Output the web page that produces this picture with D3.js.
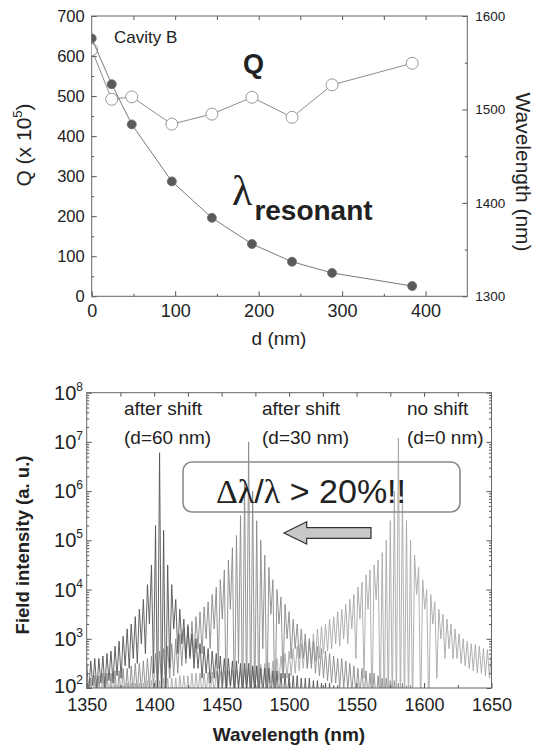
<!DOCTYPE html>
<html>
<head>
<meta charset="utf-8">
<script src="https://cdn.jsdelivr.net/npm/d3@7"></script>
<style>
  body { margin: 0; background: #fff; }
  svg text { font-family: "Liberation Sans", Arial, sans-serif; fill: #222; }
</style>
</head>
<body>
<svg id="chart" width="537" height="747"></svg>
<script>
// ---- top panel data (Cavity B) ----
const dValues = [0, 24, 48, 96, 144, 192, 240, 288, 384];            // nm
const qValues = [616, 492, 498, 430, 455, 497, 447, 528, 582];       // Q x 10^5
const lambdaRes = [1576, 1527, 1484, 1423, 1384, 1356, 1337, 1325, 1311]; // nm

const dTicks = [0, 100, 200, 300, 400];
const qTicks = [0, 100, 200, 300, 400, 500, 600, 700];
const wlTicks = [1300, 1400, 1500, 1600];

// ---- bottom panel data: field spectra, log10 intensity ----
// upper (hi) and lower (lo) fringe values read at 3 nm steps from 1350 nm
const specGrid = d3.range(1350, 1651, 3);
const hiA = [2.5, 2.55, 2.6, 2.6, 2.65, 2.7, 2.75, 2.85, 2.95, 3.05,
  3.2, 3.3, 3.45, 3.6, 3.8, 4.1, 4.5, 5.3, 6.78, 5.2,
  4.5, 4.1, 3.8, 3.6, 3.4, 3.25, 3.1, 3.0, 2.9, 2.85,
  2.8, 2.75, 2.7, 2.65, 2.6, 2.6, 2.55, 2.55, 2.5, 2.5,
  2.5, 2.45, 2.45, 2.4, 2.4, 2.4, 2.35, 2.35, 2.3, 2.3,
  2.3, 2.25, 2.25, 2.2, 2.2, 2.2, 2.15, 2.15, 2.1, 2.1,
  2.1, 2.05, 2.05, 2.0, 2.0, 2.0, 1.95, 1.95, 1.9, 1.9,
  1.9, 1.9, 1.85, 1.85, 1.85, 1.85, 1.8, 1.8, 1.8, 1.8,
  1.8, 1.8, 1.75, 1.75, 1.75, 1.75, 1.75, 1.75, 1.7, 1.7,
  1.7, 1.7, 1.7, 1.7, 1.7, 1.7, 1.7, 1.7, 1.7, 1.7, 1.7];
const loA = [1.9, 2.05, 1.95, 2.1, 2.0, 2.15, 2.1, 2.25, 2.2, 2.45,
  2.4, 2.6, 2.5, 2.9, 2.7, 3.3, 2.3, 1.5, 1.5, 1.5,
  2.4, 3.2, 2.7, 2.9, 2.6, 2.6, 2.4, 2.4, 2.2, 2.3,
  2.1, 2.2, 2.0, 2.1, 1.95, 2.05, 1.9, 2.0, 1.85, 1.95,
  1.8, 1.9, 1.8, 1.85, 1.75, 1.8, 1.7, 1.8, 1.7, 1.7,
  1.65, 1.7, 1.65, 1.6, 1.6, 1.6, 1.6, 1.6, 1.55, 1.55,
  1.5, 1.5, 1.5, 1.5, 1.5, 1.5, 1.5, 1.5, 1.5, 1.5,
  1.5, 1.5, 1.5, 1.5, 1.5, 1.5, 1.5, 1.5, 1.5, 1.5,
  1.5, 1.5, 1.5, 1.5, 1.5, 1.5, 1.5, 1.5, 1.5, 1.5,
  1.5, 1.5, 1.5, 1.5, 1.5, 1.5, 1.5, 1.5, 1.5, 1.5, 1.5];
const hiB = [2.2, 2.2, 2.25, 2.25, 2.3, 2.3, 2.3, 2.35, 2.35, 2.4,
  2.4, 2.45, 2.5, 2.5, 2.55, 2.6, 2.65, 2.7, 2.75, 2.8,
  2.85, 2.9, 3.0, 3.1, 3.2, 3.3, 3.35, 3.45, 3.55, 3.65,
  3.75, 3.9, 4.05, 4.2, 4.4, 4.6, 4.85, 5.1, 5.5, 6.2,
  7.0, 6.0, 5.4, 5.0, 4.7, 4.45, 4.2, 4.0, 3.85, 3.7,
  3.55, 3.4, 3.3, 3.2, 3.1, 3.0, 2.95, 2.85, 2.8, 2.75,
  2.7, 2.65, 2.6, 2.6, 2.55, 2.5, 2.45, 2.4, 2.4, 2.35,
  2.3, 2.3, 2.25, 2.2, 2.2, 2.15, 2.15, 2.1, 2.1, 2.05,
  2.05, 2.0, 2.0, 2.0, 1.95, 1.95, 1.95, 1.9, 1.9, 1.9,
  1.9, 1.85, 1.85, 1.85, 1.85, 1.8, 1.8, 1.8, 1.8, 1.8, 1.8];
const loB = [1.6, 1.7, 1.65, 1.75, 1.7, 1.8, 1.75, 1.8, 1.8, 1.85,
  1.8, 1.9, 1.9, 1.95, 1.9, 2.0, 2.0, 2.05, 2.1, 2.1,
  2.2, 2.25, 2.3, 2.45, 2.5, 2.65, 2.6, 2.8, 2.7, 3.0,
  2.8, 3.2, 2.4, 3.4, 1.5, 3.6, 1.5, 2.5, 1.5, 1.5,
  1.5, 1.5, 1.5, 2.8, 1.5, 3.5, 1.5, 3.3, 2.2, 3.0,
  2.6, 2.8, 2.6, 2.6, 2.4, 2.4, 2.3, 2.25, 2.2, 2.15,
  2.1, 2.1, 2.0, 2.0, 1.95, 1.9, 1.85, 1.85, 1.8, 1.8,
  1.75, 1.75, 1.7, 1.7, 1.7, 1.7, 1.65, 1.65, 1.65, 1.6,
  1.6, 1.6, 1.6, 1.6, 1.6, 1.6, 1.6, 1.6, 1.6, 1.6,
  1.6, 1.6, 1.6, 1.6, 1.6, 1.6, 1.6, 1.6, 1.6, 1.6, 1.6];
const hiC = [1.95, 1.95, 2.0, 2.0, 2.0, 2.0, 2.05, 2.05, 2.05, 2.05,
  2.1, 2.1, 2.1, 2.1, 2.1, 2.15, 2.15, 2.15, 2.15, 2.2,
  2.2, 2.2, 2.2, 2.25, 2.25, 2.25, 2.3, 2.3, 2.3, 2.3,
  2.32, 2.32, 2.34, 2.34, 2.35, 2.35, 2.36, 2.37, 2.38, 2.39,
  2.4, 2.42, 2.45, 2.48, 2.5, 2.52, 2.55, 2.6, 2.65, 2.7,
  2.75, 2.8, 2.85, 2.9, 2.95, 3.0, 3.1, 3.2, 3.25, 3.3,
  3.4, 3.45, 3.55, 3.6, 3.7, 3.8, 3.9, 4.05, 4.15, 4.3,
  4.4, 4.5, 4.6, 4.75, 5.0, 5.4, 6.0, 7.08, 6.0, 5.4,
  5.0, 4.7, 4.45, 4.2, 4.0, 3.9, 3.75, 3.6, 3.5, 3.4,
  3.3, 3.2, 3.1, 3.0, 2.95, 2.9, 2.88, 2.85, 2.8, 2.78, 2.75];
const loC = [1.5, 1.6, 1.5, 1.6, 1.55, 1.6, 1.55, 1.65, 1.6, 1.65,
  1.6, 1.7, 1.65, 1.7, 1.65, 1.75, 1.7, 1.75, 1.7, 1.8,
  1.75, 1.8, 1.75, 1.85, 1.8, 1.85, 1.8, 1.9, 1.85, 1.9,
  1.85, 1.9, 1.9, 1.95, 1.9, 2.0, 1.95, 2.0, 1.95, 2.05,
  2.0, 2.0, 2.05, 2.05, 2.1, 2.1, 2.1, 2.15, 2.2, 2.2,
  2.25, 2.3, 2.35, 2.4, 2.4, 2.5, 2.55, 2.6, 2.7, 2.75,
  2.8, 2.9, 2.85, 3.0, 2.9, 3.2, 2.6, 3.4, 2.2, 3.6,
  1.5, 3.8, 1.5, 1.5, 1.5, 1.5, 1.5, 1.5, 1.5, 1.5,
  1.5, 3.9, 1.5, 3.6, 1.5, 3.3, 2.2, 3.0, 2.6, 2.8,
  2.6, 2.6, 2.5, 2.45, 2.4, 2.35, 2.3, 2.3, 2.25, 2.2, 2.2];

const spectra = [
  { name: 'no shift', hi: hiC, lo: loC, color: '#a8a8a8' },
  { name: 'd=30', hi: hiB, lo: loB, color: '#8a8a8a' },
  { name: 'd=60', hi: hiA, lo: loA, color: '#545454' }
];
const wTicks = [1350, 1400, 1450, 1500, 1550, 1600, 1650];
const expTicks = [2, 3, 4, 5, 6, 7, 8];

const FONT = '"Liberation Sans", Arial, sans-serif';
const SERIF = '"Liberation Serif", "Times New Roman", serif';
const fmt = d3.format('d');
const svg = d3.select('#chart');

function styleAxis(g, size) {
  g.select('.domain').remove();
  g.attr('font-family', FONT).attr('font-size', size);
  g.selectAll('line').attr('stroke', '#555');
  g.selectAll('text').attr('fill', '#222');
}

// =============== top panel ===============
const tp = { left: 91.7, right: 467.3, top: 16, bottom: 296.3 };
const xD = d3.scaleLinear().domain([0, 450]).range([tp.left, tp.right]);
const yQ = d3.scaleLinear().domain([0, 700]).range([tp.bottom, tp.top]);
const yWl = d3.scaleLinear().domain([1300, 1600]).range([tp.bottom, tp.top]);

svg.append('clipPath').attr('id', 'clipTop').append('rect')
  .attr('x', tp.left).attr('y', tp.top)
  .attr('width', tp.right - tp.left).attr('height', tp.bottom - tp.top);

// axes
svg.append('g').attr('transform', `translate(0,${tp.bottom})`)
  .call(d3.axisBottom(xD).tickValues(dTicks).tickFormat(fmt).tickSize(-5).tickPadding(8))
  .call(styleAxis, 18);
svg.append('g').attr('transform', `translate(0,${tp.bottom})`)
  .call(d3.axisBottom(xD).tickValues([50, 150, 250, 350]).tickSize(-2.5).tickFormat(''))
  .call(styleAxis, 10);
svg.append('g').attr('transform', `translate(0,${tp.top})`)
  .call(d3.axisTop(xD).tickValues(d3.range(50, 450, 50)).tickSize(-4).tickFormat(''))
  .call(styleAxis, 10);
svg.append('g').attr('transform', `translate(${tp.left},0)`)
  .call(d3.axisLeft(yQ).tickValues(qTicks).tickFormat(fmt).tickSize(-5).tickPadding(7))
  .call(styleAxis, 16.5);
svg.append('g').attr('transform', `translate(${tp.left},0)`)
  .call(d3.axisLeft(yQ).tickValues(d3.range(50, 700, 100)).tickSize(-2.5).tickFormat(''))
  .call(styleAxis, 10);
svg.append('g').attr('transform', `translate(${tp.right},0)`)
  .call(d3.axisRight(yWl).tickValues(wlTicks).tickFormat(fmt).tickSize(-5).tickPadding(8))
  .call(styleAxis, 13.5);
svg.append('g').attr('transform', `translate(${tp.right},0)`)
  .call(d3.axisRight(yWl).tickValues([1350, 1450, 1550]).tickSize(-2.5).tickFormat(''))
  .call(styleAxis, 10);

svg.append('rect')
  .attr('x', tp.left).attr('y', tp.top)
  .attr('width', tp.right - tp.left).attr('height', tp.bottom - tp.top)
  .attr('fill', 'none').attr('stroke', '#666').attr('stroke-width', 1);

const topData = dValues.map((d, i) => ({ d, q: qValues[i], wl: lambdaRes[i] }));
const plotTop = svg.append('g').attr('clip-path', 'url(#clipTop)');

// Q series (open circles, left axis)
plotTop.append('path').datum(topData)
  .attr('fill', 'none').attr('stroke', '#8c8c8c').attr('stroke-width', 1)
  .attr('d', d3.line().x(d => xD(d.d)).y(d => yQ(d.q)));
plotTop.selectAll('circle.q').data(topData).join('circle')
  .attr('class', 'q')
  .attr('cx', d => xD(d.d)).attr('cy', d => yQ(d.q)).attr('r', 6)
  .attr('fill', '#fff').attr('stroke', '#999').attr('stroke-width', 1);

// resonant wavelength (filled circles, right axis)
plotTop.append('path').datum(topData)
  .attr('fill', 'none').attr('stroke', '#7a7a7a').attr('stroke-width', 1)
  .attr('d', d3.line().x(d => xD(d.d)).y(d => yWl(d.wl)));
plotTop.selectAll('circle.wl').data(topData).join('circle')
  .attr('class', 'wl')
  .attr('cx', d => xD(d.d)).attr('cy', d => yWl(d.wl)).attr('r', 4.5)
  .attr('fill', '#5a5a5a').attr('stroke', '#6a6a6a').attr('stroke-width', 0.8);

// texts
svg.append('text').attr('x', 114).attr('y', 43).attr('font-size', 17).text('Cavity B');
svg.append('text').attr('x', 243).attr('y', 73).attr('font-size', 27)
  .attr('font-weight', 'bold').attr('fill', '#111').text('Q');
const lamText = svg.append('text').attr('x', 232).attr('y', 205).attr('fill', '#111');
lamText.append('tspan').attr('font-family', SERIF).attr('font-size', 42).text('λ');
lamText.append('tspan').attr('font-size', 28).attr('font-weight', 'bold')
  .attr('dx', 2).attr('dy', 15).text('resonant');

svg.append('text').attr('x', 279).attr('y', 345).attr('text-anchor', 'middle')
  .attr('font-size', 19).text('d (nm)');
const qLab = svg.append('text').attr('transform', 'translate(31,145) rotate(-90)')
  .attr('text-anchor', 'middle').attr('font-size', 21);
qLab.append('tspan').text('Q (x 10');
qLab.append('tspan').attr('font-size', 13).attr('dy', -9).text('5');
qLab.append('tspan').attr('dy', 9).text(')');
svg.append('text').attr('transform', 'translate(516,172) rotate(90)')
  .attr('text-anchor', 'middle').attr('font-size', 21).text('Wavelength (nm)');

// =============== bottom panel ===============
const bp = { left: 86.7, right: 491.5, top: 392.7, bottom: 688 };
const xW = d3.scaleLinear().domain([1350, 1650]).range([bp.left, bp.right]);
const yI = d3.scaleLog().domain([1e2, 1e8]).range([bp.bottom, bp.top]);

svg.append('clipPath').attr('id', 'clipBot').append('rect')
  .attr('x', bp.left).attr('y', bp.top)
  .attr('width', bp.right - bp.left).attr('height', bp.bottom - bp.top);

const plotBot = svg.append('g').attr('clip-path', 'url(#clipBot)');
const specLine = d3.line().x(p => xW(p[0])).y(p => yI(Math.pow(10, p[1])));
spectra.forEach(s => {
  const pts = [];
  specGrid.forEach((w, k) => {
    pts.push([w, s.hi[k]]);
    pts.push([w + 1.5, s.lo[k]]);
  });
  plotBot.append('path').datum(pts)
    .attr('fill', 'none').attr('stroke', s.color).attr('stroke-width', 0.9)
    .attr('d', specLine);
});

// axes
const minorW = d3.range(1375, 1650, 50);
svg.append('g').attr('transform', `translate(0,${bp.bottom})`)
  .call(d3.axisBottom(xW).tickValues(wTicks).tickFormat(fmt).tickSize(-5).tickPadding(10))
  .call(styleAxis, 18);
svg.append('g').attr('transform', `translate(0,${bp.bottom})`)
  .call(d3.axisBottom(xW).tickValues(minorW).tickSize(-3).tickFormat(''))
  .call(styleAxis, 10);
svg.append('g').attr('transform', `translate(0,${bp.top})`)
  .call(d3.axisTop(xW).tickValues(d3.range(1375, 1650, 25)).tickSize(-4).tickFormat(''))
  .call(styleAxis, 10);

const majorI = expTicks.map(e => Math.pow(10, e));
const minorI = [];
expTicks.slice(0, -1).forEach(e => d3.range(2, 10).forEach(m => minorI.push(m * Math.pow(10, e))));
[[bp.left, d3.axisLeft], [bp.right, d3.axisRight]].forEach(([x, ax]) => {
  svg.append('g').attr('transform', `translate(${x},0)`)
    .call(ax(yI).tickValues(majorI).tickSize(-5).tickFormat(''))
    .call(styleAxis, 10);
  svg.append('g').attr('transform', `translate(${x},0)`)
    .call(ax(yI).tickValues(minorI).tickSize(-2.5).tickFormat(''))
    .call(styleAxis, 10);
});

// log tick labels 10^n
const yLabels = svg.append('g');
expTicks.forEach(e => {
  const t = yLabels.append('text').attr('x', 83).attr('y', yI(Math.pow(10, e)) + (e === 2 ? 5 : 7))
    .attr('text-anchor', 'end').attr('font-size', 20);
  t.append('tspan').text('10');
  t.append('tspan').attr('font-size', 12).attr('dy', -9).text(e);
});

svg.append('rect')
  .attr('x', bp.left).attr('y', bp.top)
  .attr('width', bp.right - bp.left).attr('height', bp.bottom - bp.top)
  .attr('fill', 'none').attr('stroke', '#666').attr('stroke-width', 1);

// annotations
const notes = [
  { x: 124, l1: 'after shift', l2: '(d=60 nm)' },
  { x: 262, l1: 'after shift', l2: '(d=30 nm)' },
  { x: 407, l1: 'no shift', l2: '(d=0 nm)' }
];
notes.forEach(n => {
  svg.append('text').attr('x', n.x).attr('y', 415).attr('font-size', 19).text(n.l1);
  svg.append('text').attr('x', n.x).attr('y', 444).attr('font-size', 19).text(n.l2);
});

svg.append('rect').attr('x', 183).attr('y', 462).attr('width', 277).attr('height', 50)
  .attr('rx', 9).attr('fill', 'none').attr('stroke', '#8a8a8a').attr('stroke-width', 1.6);
const big = svg.append('text').attr('x', 216).attr('y', 503).attr('font-size', 34).attr('fill', '#111');
big.append('tspan').attr('font-family', SERIF).text('Δλ');
big.append('tspan').text('/');
big.append('tspan').attr('font-family', SERIF).text('λ');
big.append('tspan').text(' > 20%!!');

svg.append('path')
  .attr('d', 'M284,533 L306.7,521.7 L306.7,527.7 L371,527.7 L371,538.3 L306.7,538.3 L306.7,544 Z')
  .attr('fill', '#c8c8c8').attr('stroke', '#333').attr('stroke-width', 1.2);

svg.append('text').attr('x', 289).attr('y', 741).attr('text-anchor', 'middle')
  .attr('font-size', 19).attr('font-weight', 'bold').text('Wavelength (nm)');
svg.append('text').attr('transform', 'translate(29,545) rotate(-90)')
  .attr('text-anchor', 'middle').attr('font-size', 18.5).attr('font-weight', 'bold')
  .text('Field intensity (a. u.)');
</script>
</body>
</html>
